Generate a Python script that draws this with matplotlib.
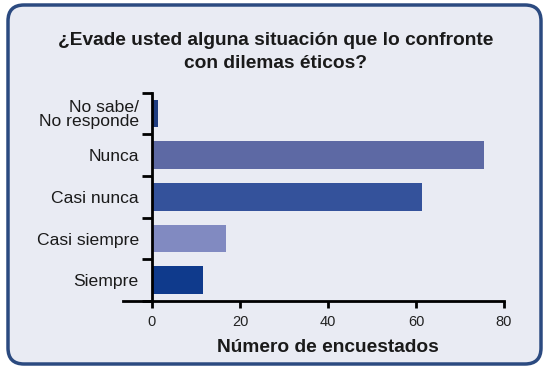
import numpy as np
import matplotlib
matplotlib.use('Agg')
import matplotlib.pyplot as plt
from matplotlib.patches import FancyBboxPatch

plt.rcParams['font.family'] = ['Liberation Sans', 'DejaVu Sans']

categories = ['No sabe/\nNo responde', 'Nunca', 'Casi nunca', 'Casi siempre', 'Siempre']
values = [1.4, 75.5, 61.3, 16.8, 11.7]
bar_colors = ['#203d80', '#5d69a4', '#34529b', '#818ac1', '#0f3a8c']
xticks = [0, 20, 40, 60, 80]
title = '¿Evade usted alguna situación que lo confronte\ncon dilemas éticos?'
xlabel = 'Número de encuestados'

W, H = 545, 373
fig = plt.figure(figsize=(W / 100, H / 100), dpi=100)

# background frame drawn in pixel units
bg = fig.add_axes([0, 0, 1, 1])
bg.set_xlim(0, W)
bg.set_ylim(H, 0)
bg.axis('off')
box = FancyBboxPatch((8, 5), 533, 359, boxstyle='round,pad=0,rounding_size=16',
                     facecolor='#e9ebf3', edgecolor='#2b4a80', linewidth=2.5)
bg.add_patch(box)

fig.text(276 / W, 1 - 52 / H, title, ha='center', va='center', fontsize=13.8,
         fontweight='bold', color='#1a1a1a', linespacing=1.42)

xmin = -6.7
ax = fig.add_axes([122.5 / W, 72 / H, 381.5 / W, 208.3 / H])
ax.patch.set_visible(False)

pos = np.arange(len(categories))
ax.barh(pos, values, height=0.67, color=bar_colors, zorder=2)

ax.set_xlim(xmin, 80)
ax.set_ylim(len(categories) - 0.5, -0.5)

for s in ['top', 'right']:
    ax.spines[s].set_visible(False)
ax.spines['left'].set_position(('data', 0))
ax.spines['left'].set_linewidth(2)
ax.spines['bottom'].set_linewidth(2)
ax.spines['left'].set_zorder(3)

ax.set_xticks(xticks)
ax.set_xticklabels([str(t) for t in xticks], family=['Liberation Sans Narrow', 'Liberation Sans'],
                   fontsize=10.5, color='#222222')
ax.tick_params(axis='x', direction='out', length=5, width=2, pad=5)

ax.set_yticks(np.arange(-0.5, len(categories)))
ax.set_yticklabels([])
ax.tick_params(axis='y', which='major', direction='out', length=7.5, width=2)
ax.set_yticks(pos, minor=True)
ax.set_yticklabels(categories, minor=True, fontsize=12.6, color='#1a1a1a',
                   linespacing=0.95)
ax.tick_params(axis='y', which='minor', length=0, pad=9.5)

ax.set_xlabel(xlabel, fontsize=13.8, fontweight='bold', color='#1a1a1a', va='center')
ax.xaxis.set_label_coords((40 - xmin) / (80 - xmin), -46 / 208.3)

fig.savefig('out.png', dpi=100)
